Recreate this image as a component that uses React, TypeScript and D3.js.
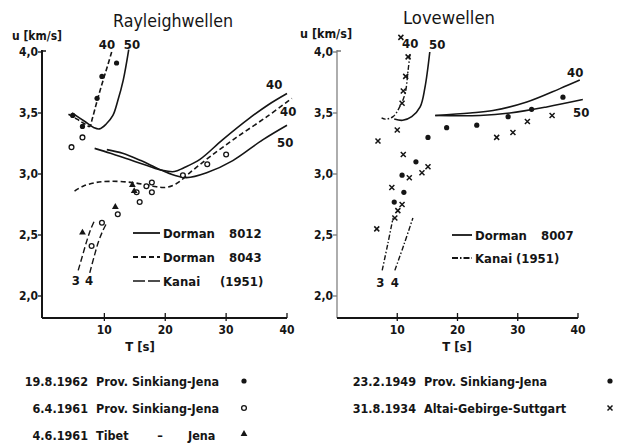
import React from 'react';
import * as d3 from 'd3';

type P = [number, number];

// ---------- shared ticks ----------
const T_TICKS = [10, 20, 30, 40];
const U_TICKS = [2.0, 2.5, 3.0, 3.5, 4.0];
const U_LABELS = ['2,0', '2,5', '3,0', '3,5', '4,0'];

// ---------- Rayleigh (left) ----------
const rayHigh40: P[] = [[11.2, 4.0], [10.3, 3.85], [9.5, 3.72], [8.7, 3.58], [8.0, 3.45], [7.6, 3.39], [6.8, 3.41], [5.5, 3.45], [4.1, 3.49]];
const rayHigh50: P[] = [[14.0, 4.02], [13.1, 3.77], [12.2, 3.6], [11.4, 3.48], [10.3, 3.41], [9.2, 3.37], [8.3, 3.38], [6.8, 3.43], [4.7, 3.5]];
const rayFund40: P[] = [[8.4, 3.21], [11, 3.17], [14, 3.12], [17, 3.07], [19.5, 3.03], [21.5, 3.02], [23, 3.05], [25.7, 3.12], [29.4, 3.28], [33.9, 3.46], [37, 3.57], [40, 3.66]];
const rayFund50: P[] = [[10.4, 3.2], [13, 3.17], [16, 3.11], [19, 3.04], [21.5, 2.99], [23.5, 2.97], [26.8, 3.01], [31.1, 3.11], [36, 3.28], [40, 3.4]];
const rayDorman8043: P[] = [[5.1, 2.86], [6.5, 2.9], [8.6, 2.93], [11, 2.94], [14.6, 2.93], [18, 2.9], [20, 2.89], [21.8, 2.92], [24.5, 3.03], [27.3, 3.14], [31.7, 3.3], [36.7, 3.47], [40.8, 3.62]];
const rayKanai3: P[] = [[5.7, 2.21], [6.4, 2.33], [7.1, 2.45], [7.7, 2.54], [8.3, 2.61]];
const rayKanai4: P[] = [[7.6, 2.19], [8.3, 2.32], [9.0, 2.44], [9.7, 2.53], [10.4, 2.6]];

const rayDots: P[] = [[12.0, 3.91], [9.6, 3.8], [8.8, 3.62], [4.8, 3.48], [6.4, 3.39]];
const rayCircles: P[] = [[4.6, 3.22], [6.4, 3.3], [7.9, 2.41], [9.6, 2.6], [12.2, 2.67], [15.3, 2.85], [15.8, 2.77], [16.9, 2.9], [17.8, 2.93], [17.8, 2.85], [22.9, 2.99], [26.9, 3.08], [30.0, 3.16]];
const rayTriangles: P[] = [[6.4, 2.52], [11.8, 2.73], [14.6, 2.91], [14.9, 2.86]];

// ---------- Love (right) ----------
const loveHigh40: P[] = [[12.1, 3.98], [11.8, 3.85], [11.3, 3.66], [10.4, 3.55], [9.3, 3.47], [8.0, 3.45], [7.4, 3.46]];
const loveHigh50: P[] = [[15.4, 4.0], [14.6, 3.71], [13.8, 3.55], [12.4, 3.47], [10.9, 3.44], [9.5, 3.45]];
const loveFund40: P[] = [[16.3, 3.48], [22.1, 3.5], [25.9, 3.52], [31.5, 3.59], [37, 3.7], [40.3, 3.77]];
const loveFund50: P[] = [[16.3, 3.48], [23.7, 3.48], [28.7, 3.5], [34.8, 3.55], [40.8, 3.61]];
const loveKanai3: P[] = [[7.5, 2.21], [8.4, 2.42], [9.3, 2.64]];
const loveKanai4: P[] = [[9.6, 2.21], [11.1, 2.42], [12.6, 2.64]];

const loveDots: P[] = [[13.1, 3.1], [10.8, 2.99], [11.1, 2.85], [9.5, 2.77], [15.1, 3.3], [18.2, 3.38], [23.2, 3.4], [28.4, 3.47], [32.3, 3.53], [37.5, 3.63]];
const loveCrosses: P[] = [[10.6, 4.12], [11.8, 3.96], [11.4, 3.8], [11.0, 3.68], [10.8, 3.58], [10.0, 3.36], [6.8, 3.27], [11.0, 3.16], [15.1, 3.06], [14.1, 3.01], [12.0, 2.97], [9.1, 2.89], [10.8, 2.75], [10.1, 2.7], [9.6, 2.64], [6.6, 2.55], [26.5, 3.3], [29.2, 3.34], [31.6, 3.43], [35.7, 3.48]];

// ---------- legends ----------
const leftLegend = [['Dorman', '8012'], ['Dorman', '8043'], ['Kanai', '(1951)']];
const rightLegend = [['Dorman', '8007'], ['Kanai', '(1951)']];
const leftEvents = [['19.8.1962', 'Prov. Sinkiang-Jena'], ['6.4.1961', 'Prov. Sinkiang-Jena'], ['4.6.1961', 'Tibet']];
const rightEvents = [['23.2.1949', 'Prov. Sinkiang-Jena'], ['31.8.1934', 'Altai-Gebirge-Suttgart']];

const INK = '#151515';
const FONT = "'DejaVu Sans Condensed', 'Liberation Sans Narrow', 'Liberation Sans', sans-serif";

const xL = d3.scaleLinear().domain([0, 40]).range([43.5, 287]);
const xR = d3.scaleLinear().domain([0, 40]).range([337, 578]);
const yS = d3.scaleLinear().domain([2, 4]).range([296, 52]);

const mkLine = (x: d3.ScaleLinear<number, number>) =>
  d3.line<P>().x(d => x(d[0])).y(d => yS(d[1])).curve(d3.curveCatmullRom.alpha(0.5));

const Dot = ({ x, y }: { x: number; y: number }) => <circle cx={x} cy={y} r={2.6} fill={INK} />;
const OCircle = ({ x, y }: { x: number; y: number }) => <circle cx={x} cy={y} r={2.4} fill="white" stroke={INK} strokeWidth={1.3} />;
const Tri = ({ x, y }: { x: number; y: number }) => (
  <path d={d3.symbol().type(d3.symbolTriangle).size(20)() || ''} transform={`translate(${x},${y})`} fill={INK} />
);
const Cross = ({ x, y }: { x: number; y: number }) => (
  <path d={`M${x - 2.5},${y - 2.5}L${x + 2.5},${y + 2.5}M${x - 2.5},${y + 2.5}L${x + 2.5},${y - 2.5}`} stroke={INK} strokeWidth={1.5} />
);

function Axes({ x, axisX, light }: { x: d3.ScaleLinear<number, number>; axisX: number; light?: boolean }) {
  const x0 = axisX;
  const x1 = x(40);
  const yb = 318;
  return (
    <g fontFamily={FONT} fill={INK}>
      <line x1={x0} y1={50} x2={x0} y2={yb} stroke={light ? '#777' : INK} strokeWidth={light ? 1.2 : 2} />
      <line x1={x0} y1={yb} x2={x1} y2={yb} stroke={INK} strokeWidth={2} />
      <line x1={x0} y1={51} x2={x0 + 4} y2={51} stroke={light ? '#777' : INK} strokeWidth={1.5} />
      {U_TICKS.map((u, i) => (
        <g key={u}>
          <line x1={x0 - 4} x2={x0} y1={yS(u)} y2={yS(u)} stroke={light ? '#777' : INK} strokeWidth={1.3} />
          <text x={x0 - 4} y={yS(u) + 4} fontSize={12} textAnchor="end" fontWeight="bold">{U_LABELS[i]}</text>
        </g>
      ))}
      {T_TICKS.map(t => (
        <g key={t}>
          <line x1={x(t)} x2={x(t)} y1={yb - 5} y2={t === 40 ? yb : yb + 3} stroke={INK} strokeWidth={1.3} />
          <text x={x(t)} y={334} fontSize={12} textAnchor="middle" fontWeight="bold">{t}</text>
        </g>
      ))}
    </g>
  );
}

export default function App() {
  const lL = mkLine(xL);
  const lR = mkLine(xR);
  const stroke = { fill: 'none', stroke: INK } as const;
  return (
    <svg width={623} height={444} viewBox="0 0 623 444" style={{ position: 'absolute', left: 0, top: 0, background: 'white' }}>
      <rect width={623} height={444} fill="white" />
      {/* titles */}
      <g fontFamily={FONT} fill={INK}>
        <text x={113} y={27} fontSize={17} textLength={120} lengthAdjust="spacingAndGlyphs">Rayleighwellen</text>
        <text x={403} y={24} fontSize={17} textLength={92} lengthAdjust="spacingAndGlyphs">Lovewellen</text>
        <text x={12} y={40} fontSize={12} fontWeight="bold" textLength={50} lengthAdjust="spacingAndGlyphs">u [km/s]</text>
        <text x={300} y={38} fontSize={12} fontWeight="bold" textLength={52} lengthAdjust="spacingAndGlyphs">u [km/s]</text>
        <text x={140} y={351} fontSize={13} fontWeight="bold" textAnchor="middle">T [s]</text>
        <text x={457} y={351} fontSize={13} fontWeight="bold" textAnchor="middle">T [s]</text>
      </g>

      <Axes x={xL} axisX={42} />
      <Axes x={xR} axisX={337} light />

      {/* Rayleigh curves */}
      <path d={lL(rayHigh40) || ''} {...stroke} strokeWidth={1.6} strokeDasharray="5,2.5" />
      <path d={lL(rayHigh50) || ''} {...stroke} strokeWidth={1.6} />
      <path d={lL(rayFund40) || ''} {...stroke} strokeWidth={1.6} />
      <path d={lL(rayFund50) || ''} {...stroke} strokeWidth={1.6} />
      <path d={lL(rayDorman8043) || ''} {...stroke} strokeWidth={1.6} strokeDasharray="5,3" />
      <path d={lL(rayKanai3) || ''} {...stroke} strokeWidth={1.4} strokeDasharray="6,3" />
      <path d={lL(rayKanai4) || ''} {...stroke} strokeWidth={1.4} strokeDasharray="6,3" />
      {rayDots.map((d, i) => <Dot key={'rd' + i} x={xL(d[0])} y={yS(d[1])} />)}
      {rayCircles.map((d, i) => <OCircle key={'rc' + i} x={xL(d[0])} y={yS(d[1])} />)}
      {rayTriangles.map((d, i) => <Tri key={'rt' + i} x={xL(d[0])} y={yS(d[1])} />)}

      {/* Love curves */}
      <path d={lR(loveHigh40) || ''} {...stroke} strokeWidth={1.4} strokeDasharray="5,2,1.5,2" />
      <path d={lR(loveHigh50) || ''} {...stroke} strokeWidth={1.6} />
      <path d={lR(loveFund40) || ''} {...stroke} strokeWidth={1.5} />
      <path d={lR(loveFund50) || ''} {...stroke} strokeWidth={1.5} />
      <path d={lR(loveKanai3) || ''} {...stroke} strokeWidth={1.4} strokeDasharray="5,2,1.5,2" />
      <path d={lR(loveKanai4) || ''} {...stroke} strokeWidth={1.4} strokeDasharray="5,2,1.5,2" />
      {loveDots.map((d, i) => <Dot key={'ld' + i} x={xR(d[0])} y={yS(d[1])} />)}
      {loveCrosses.map((d, i) => <Cross key={'lc' + i} x={xR(d[0])} y={yS(d[1])} />)}

      {/* curve labels */}
      <g fontFamily={FONT} fill={INK} fontSize={13} fontWeight="bold">
        <text x={107} y={49} textAnchor="middle">40</text>
        <text x={132} y={49} textAnchor="middle">50</text>
        <text x={266} y={89}>40</text>
        <text x={280} y={116}>40</text>
        <text x={277} y={147}>50</text>
        <text x={xL(5.3)} y={285} textAnchor="middle">3</text>
        <text x={xL(7.5)} y={285} textAnchor="middle">4</text>
        <text x={402} y={48}>40</text>
        <text x={429} y={49}>50</text>
        <text x={567} y={77}>40</text>
        <text x={573} y={117}>50</text>
        <text x={xR(7.2)} y={287} textAnchor="middle">3</text>
        <text x={xR(9.6)} y={287} textAnchor="middle">4</text>
      </g>

      {/* inner legends */}
      <g fontFamily={FONT} fill={INK} fontSize={13} fontWeight="bold">
        {leftLegend.map((r, i) => {
          const y = 233 + i * 24;
          return (
            <g key={'ll' + i}>
              <line x1={133} x2={160} y1={y} y2={y} stroke={INK} strokeWidth={i === 2 ? 1.4 : 1.8}
                strokeDasharray={i === 1 ? '5,3' : i === 2 ? '12,3' : undefined} />
              <text x={163} y={y + 4.5}>{r[0]}</text>
              <text x={i === 2 ? 220 : 229} y={y + 4.5}>{r[1]}</text>
            </g>
          );
        })}
        {rightLegend.map((r, i) => {
          const y = 235 + i * 23;
          return (
            <g key={'rl' + i}>
              <line x1={452} x2={472} y1={y} y2={y} stroke={INK} strokeWidth={1.8}
                strokeDasharray={i === 1 ? '6,2,1.5,2' : undefined} />
              <text x={475} y={y + 4.5}>{r[0]}</text>
              <text x={i === 1 ? 516 : 541} y={y + 4.5}>{r[1]}</text>
            </g>
          );
        })}
      </g>

      {/* event legend */}
      <g fontFamily={FONT} fill={INK} fontSize={12.5} fontWeight="bold">
        {leftEvents.map((r, i) => {
          const y = 381 + i * 27;
          return (
            <g key={'le' + i}>
              <text x={88} y={y + 4.5} textAnchor="end">{r[0]}</text>
              <text x={96} y={y + 4.5}>{r[1]}</text>
              {i === 2 && <text x={160} y={y + 4.5} textAnchor="middle">–</text>}
              {i === 2 && <text x={188} y={y + 4.5}>Jena</text>}
            </g>
          );
        })}
        {rightEvents.map((r, i) => {
          const y = 381 + i * 27;
          return (
            <g key={'re' + i}>
              <text x={416} y={y + 4.5} textAnchor="end">{r[0]}</text>
              <text x={424} y={y + 4.5}>{r[1]}</text>
            </g>
          );
        })}
      </g>
      <Dot x={244} y={381} />
      <OCircle x={244} y={408} />
      <Tri x={244} y={434} />
      <Dot x={610} y={381} />
      <Cross x={610} y={408} />
    </svg>
  );
}
